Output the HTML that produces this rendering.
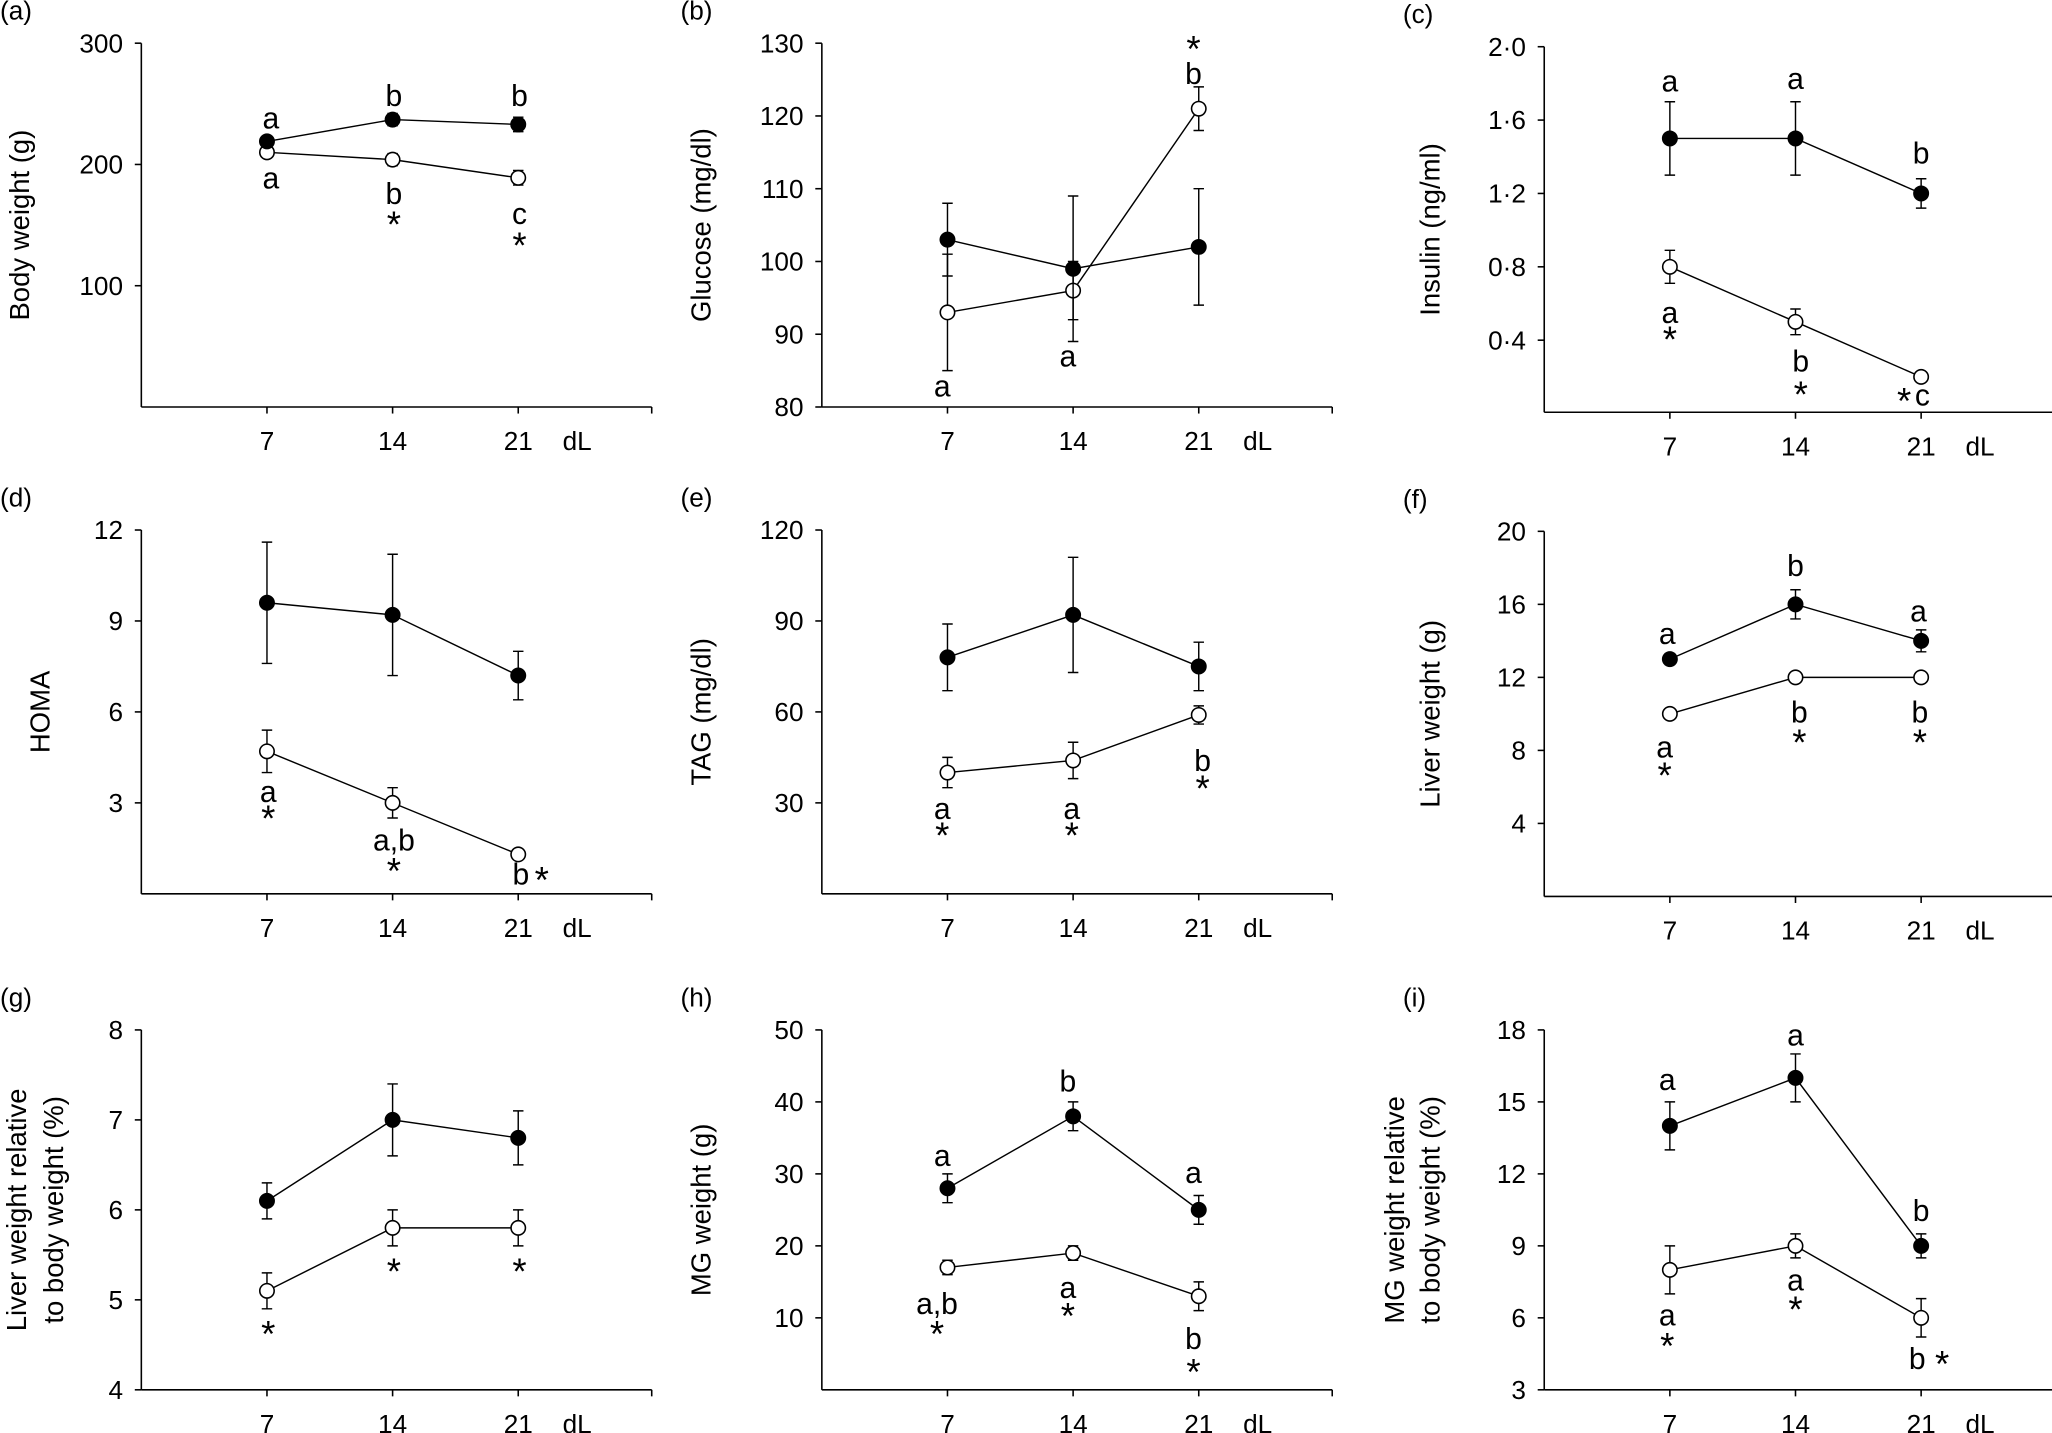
<!DOCTYPE html>
<html><head><meta charset="utf-8">
<style>
html,body{margin:0;padding:0;background:#fff;}
svg{display:block;font-family:"Liberation Sans",Arial,sans-serif;}
</style></head>
<body>
<svg id="fig" width="2052" height="1433" viewBox="0 0 1568 1095" xmlns="http://www.w3.org/2000/svg"></svg>
<script>
const days = [7, 14, 21];
// panel (a) body weight
const aFilled = [219, 237, 233], aFilledErr = [4, 5, 6];
const aOpen = [210, 204, 189], aOpenErr = [3, 5, 6];
// (b) glucose
const bFilled = [103, 99, 102], bFilledErr = [5, 10, 8];
const bOpen = [93, 96, 121], bOpenErr = [8, 4, 3];
// (c) insulin
const cFilled = [1.5, 1.5, 1.2], cFilledErr = [0.2, 0.2, 0.08];
const cOpen = [0.8, 0.5, 0.2], cOpenErr = [0.09, 0.07, 0.02];
// (d) HOMA
const dFilled = [9.6, 9.2, 7.2], dFilledErr = [2, 2, 0.8];
const dOpen = [4.7, 3.0, 1.3], dOpenErr = [0.7, 0.5, 0.1];
// (e) TAG
const eFilled = [78, 92, 75], eFilledErr = [11, 19, 8];
const eOpen = [40, 44, 59], eOpenErr = [5, 6, 3];
// (f) liver weight
const fFilled = [13, 16, 14], fFilledErr = [0.3, 0.8, 0.6];
const fOpen = [10, 12, 12], fOpenErr = [0.2, 0.2, 0.2];
// (g) liver relative
const gFilled = [6.1, 7.0, 6.8], gFilledErr = [0.2, 0.4, 0.3];
const gOpen = [5.1, 5.8, 5.8], gOpenErr = [0.2, 0.2, 0.2];
// (h) MG weight
const hFilled = [28, 38, 25], hFilledErr = [2, 2, 2];
const hOpen = [17, 19, 13], hOpenErr = [1, 1, 2];
// (i) MG relative
const iFilled = [14, 16, 9], iFilledErr = [1, 1, 0.5];
const iOpen = [8, 9, 6], iOpenErr = [1, 0.5, 0.8];

const aTicks = [100, 200, 300], bTicks = [80, 90, 100, 110, 120, 130];
const cTicks = [0.4, 0.8, 1.2, 1.6, 2.0], dTicks = [3, 6, 9, 12];
const eTicks = [30, 60, 90, 120], fTicks = [4, 8, 12, 16, 20];
const gTicks = [4, 5, 6, 7, 8], hTicks = [10, 20, 30, 40, 50];
const iTicks = [3, 6, 9, 12, 15, 18];

const NS = "http://www.w3.org/2000/svg";
const svg = document.getElementById('fig');
function mk(tag, attrs, parent) {
  const e = document.createElementNS(NS, tag);
  for (const k in attrs) e.setAttribute(k, attrs[k]);
  (parent || svg).appendChild(e);
  return e;
}
function txt(s, x, y, size, parent, anchor) {
  const t = mk('text', {x: x, y: y, 'font-size': size, 'text-anchor': anchor || 'middle', fill: '#000'}, parent);
  t.textContent = s;
  return t;
}

const panels = [
  {id:'a', x0:108, vTop:300, pTop:33, vBot:0, pBot:311, bottom:311, ticks:aTicks, fmt:v=>String(v), f:aFilled, fe:aFilledErr, o:aOpen, oe:aOpenErr,
   label:['Body weight (g)'], lx:[22], ann:[['a',207,90],['b',301,73],['b',397,73],['a',207,136],['b',301,148],['*',301,167],['c',397,163],['*',397,183]]},
  {id:'b', x0:628, vTop:130, pTop:33, vBot:80, pBot:311, bottom:311, ticks:bTicks, fmt:v=>String(v), f:bFilled, fe:bFilledErr, o:bOpen, oe:bOpenErr,
   label:['Glucose (mg/dl)'], lx:[543], ann:[['*',912,33],['b',912,56],['a',720,295],['a',816,272]]},
  {id:'c', x0:1180, vTop:2.0, pTop:35.7, vBot:0, pBot:316, bottom:315, ticks:cTicks, fmt:v=>v.toFixed(1).replace('.','·'), f:cFilled, fe:cFilledErr, o:cOpen, oe:cOpenErr,
   label:['Insulin (ng/ml)'], lx:[1100], ann:[['a',1276,62],['a',1372,60],['b',1468,117],['a',1276,239],['*',1276,255],['b',1376,276],['*',1376,297],['*',1455,302],['c',1469,302]]},
  {id:'d', x0:108, vTop:12, pTop:405, vBot:0, pBot:683, bottom:683, ticks:dTicks, fmt:v=>String(v), f:dFilled, fe:dFilledErr, o:dOpen, oe:dOpenErr,
   label:['HOMA'], lx:[38], ann:[['a',205,605],['*',205,621],['a,b',301,642],['*',301,661],['b',398,668],['*',414,668]]},
  {id:'e', x0:628, vTop:120, pTop:405, vBot:0, pBot:683, bottom:683, ticks:eTicks, fmt:v=>String(v), f:eFilled, fe:eFilledErr, o:eOpen, oe:eOpenErr,
   label:['TAG (mg/dl)'], lx:[543], ann:[['a',720,618],['*',720,634],['a',819,618],['*',819,634],['b',919,581],['*',919,598]]},
  {id:'f', x0:1180, vTop:20, pTop:406, vBot:0, pBot:685, bottom:685, ticks:fTicks, fmt:v=>String(v), f:fFilled, fe:fFilledErr, o:fOpen, oe:fOpenErr,
   label:['Liver weight (g)'], lx:[1100], ann:[['a',1274,484],['b',1372,432],['a',1466,467],['a',1272,571],['*',1272,588],['b',1375,544],['*',1375,563],['b',1467,544],['*',1467,563]]},
  {id:'g', x0:108, vTop:8, pTop:787, vBot:4, pBot:1062, bottom:1062, ticks:gTicks, fmt:v=>String(v), f:gFilled, fe:gFilledErr, o:gOpen, oe:gOpenErr,
   label:['Liver weight relative','to body weight (%)'], lx:[20,48], ann:[['*',205,1015],['*',301,967],['*',397,967]]},
  {id:'h', x0:628, vTop:50, pTop:787, vBot:0, pBot:1062, bottom:1062, ticks:hTicks, fmt:v=>String(v), f:hFilled, fe:hFilledErr, o:hOpen, oe:hOpenErr,
   label:['MG weight (g)'], lx:[543], ann:[['a',720,883],['b',816,826],['a',912,896],['a,b',716,996],['*',716,1015],['a',816,984],['*',816,1001],['b',912,1023],['*',912,1044]]},
  {id:'i', x0:1180, vTop:18, pTop:787, vBot:3, pBot:1062, bottom:1062, ticks:iTicks, fmt:v=>String(v), f:iFilled, fe:iFilledErr, o:iOpen, oe:iOpenErr,
   label:['MG weight relative','to body weight (%)'], lx:[1073,1100], ann:[['a',1274,825],['a',1372,791],['b',1468,925],['a',1274,1005],['*',1274,1024],['a',1372,978],['*',1372,996],['b',1465,1038],['*',1484,1038]]}
];

panels.forEach(p => {
  const g = mk('g', {});
  
  
  const y = v => p.pBot + (v - p.vBot) * (p.pTop - p.pBot) / (p.vTop - p.vBot);
  const x = d => p.x0 + d * 96 / 7;
  const xEnd = p.x0 + 390;
  const panelLbl = txt('(' + p.id + ')', p.x0 - 108, p.pTop - 18, 20, g, 'start');
  
  
  const ya = mk('line', {x1:p.x0, y1:p.pTop, x2:p.x0, y2:p.bottom, stroke:'#000', 'stroke-width':1.2}, g);
  
  
  const xa = mk('line', {x1:p.x0, y1:p.bottom, x2:xEnd, y2:p.bottom, stroke:'#000', 'stroke-width':1.2}, g);
  
  
  mk('line', {x1:xEnd, y1:p.bottom, x2:xEnd, y2:p.bottom+5, stroke:'#000', 'stroke-width':1.2}, g);
  p.ticks.forEach(t => {
    mk('line', {x1:p.x0-5, y1:y(t), x2:p.x0, y2:y(t), stroke:'#000', 'stroke-width':1.2}, g);
    const tl = txt(p.fmt(t), p.x0 - 14, y(t) + 7, 20, g, 'end');
    
    
  });
  days.forEach(d => {
    mk('line', {x1:x(d), y1:p.bottom, x2:x(d), y2:p.bottom+5, stroke:'#000', 'stroke-width':1.2}, g);
    const tl = txt(String(d), x(d), p.bottom + 33, 20, g);
    
    
  });
  const dl = txt('dL', x(21) + 45, p.bottom + 33, 20, g);
  
  
  const cy = (p.pTop + p.bottom) / 2;
  p.label.forEach((s, k) => {
    const t = txt(s, 0, 0, 21, g);
    t.setAttribute('transform', 'translate(' + p.lx[k] + ',' + cy + ') rotate(-90)');
    
    
  });
  [[p.o, p.oe, '#fff', 'open'], [p.f, p.fe, '#000', 'filled']].forEach(([vals, errs, fill, nm]) => {
    const pts = vals.map((v, i) => x(days[i]) + ',' + y(v)).join(' ');
    const ln = mk('polyline', {points:pts, fill:'none', stroke:'#000', 'stroke-width':1.1}, g);
    
    
    vals.forEach((v, i) => {
      const cx = x(days[i]);
      const y1 = y(v + errs[i]), y2 = y(v - errs[i]);
      const eb = mk('path', {d:'M'+cx+','+y1+'V'+y2+'M'+(cx-4)+','+y1+'H'+(cx+4)+'M'+(cx-4)+','+y2+'H'+(cx+4), stroke:'#000', 'stroke-width':1.1, fill:'none'}, g);
      
      
      const c = mk('circle', {cx:cx, cy:y(v), r:5.5, fill:fill, stroke:'#000', 'stroke-width':1.2}, g);
      
      
    });
  });
  p.ann.forEach(([s, ax, ay]) => {
    const isStar = s === '*';
    const t = txt(s, ax, isStar ? ay + 14 : ay + 8, isStar ? 28 : 23, g);
    
    
  });
});
</script>
</body></html>
